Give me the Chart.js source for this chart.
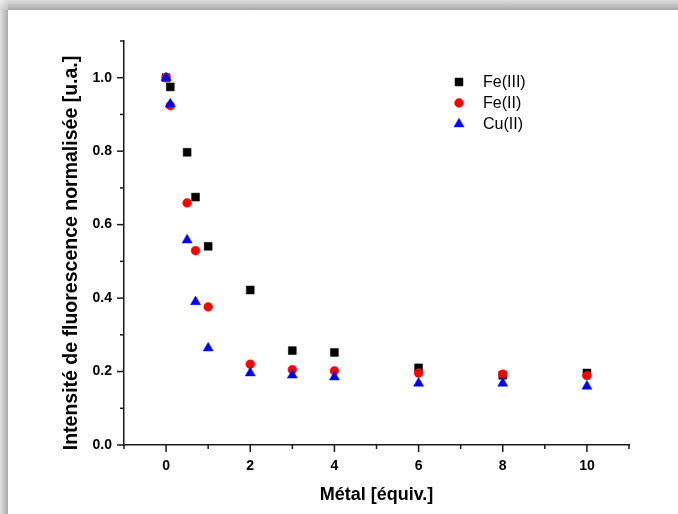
<!DOCTYPE html>
<html>
<head>
<meta charset="utf-8">
<script src="https://cdn.jsdelivr.net/npm/chart.js@4/dist/chart.umd.min.js"></script>
<style>
  html, body { margin: 0; padding: 0; background: #fff; }
  #wrap { position: relative; width: 678px; height: 514px; overflow: hidden; background: #fff; }
  #topband { position: absolute; left: 0; top: 0; width: 678px; height: 10px;
    background: linear-gradient(to bottom, #dedede, #a8a8a8); }
  #leftband { position: absolute; left: 0; top: 0; width: 8px; height: 514px;
    background: linear-gradient(to right, #e2e2e2, #a8a8a8); }
  #cornerfix { position: absolute; left: 0; top: 0; width: 8px; height: 10px;
    background: linear-gradient(135deg, #f0f0f0, #c0c0c0); }
  canvas { position: absolute; left: 0; top: 0; }
</style>
</head>
<body>
<div id="wrap">
  <div id="topband"></div>
  <div id="leftband"></div>
  <div id="cornerfix"></div>
  <canvas id="c" width="678" height="514"></canvas>
</div>
<script>
// ---- data ----
const xValues   = [0, 0.1, 0.5, 0.7, 1, 2, 3, 4, 6, 8, 10];
const feIII     = [1.0, 0.975, 0.797, 0.675, 0.541, 0.422, 0.257, 0.252, 0.210, 0.190, 0.196];
const feII      = [1.0, 0.924, 0.659, 0.529, 0.376, 0.220, 0.205, 0.202, 0.196, 0.193, 0.189];
const cuII      = [1.0, 0.928, 0.558, 0.390, 0.264, 0.196, 0.190, 0.185, 0.168, 0.168, 0.160];
const seriesNames = ['Fe(III)', 'Fe(II)', 'Cu(II)'];
const xTickLabels = ['0', '2', '4', '6', '8', '10'];
const yTickLabels = ['0.0', '0.2', '0.4', '0.6', '0.8', '1.0'];
const xTitle = 'Métal [équiv.]';
const yTitle = 'Intensité de fluorescence normalisée [u.a.]';

const toPts = arr => xValues.map((x, i) => ({x: x, y: arr[i]}));
const FONT = '"Liberation Sans", Arial, Helvetica, sans-serif';

const styles = [
  {color: '#000000', pointStyle: 'rect', radius: 5.6, order: 2},
  {color: '#ff0000', pointStyle: 'circle', radius: 4.4, order: 1},
  {color: '#0000ff', pointStyle: 'triangle', radius: 5.8, order: 0}
];
const seriesData = [feIII, feII, cuII];

const datasets = seriesData.map((arr, i) => ({
  label: seriesNames[i],
  data: toPts(arr),
  showLine: false,
  pointStyle: styles[i].pointStyle,
  pointRadius: styles[i].radius,
  pointHoverRadius: styles[i].radius,
  pointBackgroundColor: styles[i].color,
  pointBorderColor: styles[i].color,
  pointBorderWidth: 0.5,
  order: styles[i].order
}));

const AXIS_COLOR = '#1a1a1a';

const decorPlugin = {
  id: 'decor',
  afterDraw(chart) {
    const ctx = chart.ctx;
    const xs = chart.scales.x, ys = chart.scales.y;
    const area = chart.chartArea;
    ctx.save();
    ctx.strokeStyle = AXIS_COLOR;
    ctx.lineWidth = 1.5;
    // x ticks (outward, down)
    for (let v = -1; v <= 11; v++) {
      const px = xs.getPixelForValue(v);
      const major = (v % 2 === 0);
      ctx.beginPath();
      ctx.moveTo(px, area.bottom);
      ctx.lineTo(px, area.bottom + (major ? 7 : 4));
      ctx.stroke();
    }
    // y ticks (outward, left)
    for (let i = 0; i <= 11; i++) {
      const v = i / 10;
      const py = ys.getPixelForValue(v);
      const major = (i % 2 === 0);
      ctx.beginPath();
      ctx.moveTo(area.left, py);
      ctx.lineTo(area.left - (major ? 7 : 4), py);
      ctx.stroke();
    }
    // axis titles
    ctx.fillStyle = '#000';
    ctx.textAlign = 'center';
    ctx.textBaseline = 'middle';
    ctx.font = 'bold 18px ' + FONT;
    ctx.fillText(xTitle, (area.left + area.right) / 2, 495);
    ctx.save();
    ctx.translate(72, 253);
    ctx.rotate(-Math.PI / 2);
    ctx.font = 'bold 19.5px ' + FONT;
    ctx.fillText(yTitle, 0, 0);
    ctx.restore();
    // legend
    const lx = 459, ltx = 483, ly0 = 82, ldy = 21;
    ctx.font = '16px ' + FONT;
    ctx.textAlign = 'left';
    datasets.forEach((ds, i) => {
      const y = ly0 + i * ldy;
      ctx.fillStyle = ds.pointBackgroundColor;
      ctx.strokeStyle = ds.pointBorderColor;
      ctx.lineWidth = 0.5;
      Chart.helpers.drawPoint(ctx, {pointStyle: ds.pointStyle, radius: ds.pointRadius, rotation: 0, borderWidth: 0.5}, lx, y);
      ctx.fillStyle = '#000';
      ctx.fillText(ds.label, ltx, y + 1);
    });
    ctx.restore();
  }
};

new Chart(document.getElementById('c'), {
  type: 'scatter',
  data: { datasets: datasets },
  options: {
    responsive: false,
    animation: false,
    devicePixelRatio: 1,
    layout: { padding: { top: 41, right: 49, left: 0, bottom: 0 } },
    plugins: { legend: { display: false }, tooltip: { enabled: false } },
    scales: {
      x: {
        type: 'linear', min: -1, max: 11,
        afterFit: s => { s.height = 69; },
        grid: { display: false, drawTicks: false },
        border: { display: true, color: AXIS_COLOR, width: 1.5 },
        ticks: {
          stepSize: 1, padding: 13, color: '#000', maxRotation: 0, autoSkip: false,
          font: { family: FONT, size: 14, weight: 'bold' },
          callback: (v) => {
            const r = Math.round(v);
            return (r >= 0 && r % 2 === 0) ? xTickLabels[r / 2] : '';
          }
        }
      },
      y: {
        type: 'linear', min: 0, max: 1.1,
        afterFit: s => { s.width = 124; },
        grid: { display: false, drawTicks: false },
        border: { display: true, color: AXIS_COLOR, width: 1.5 },
        ticks: {
          stepSize: 0.1, padding: 12, color: '#000', autoSkip: false,
          font: { family: FONT, size: 14, weight: 'bold' },
          callback: (v, idx) => (idx % 2 === 0 && idx / 2 < yTickLabels.length) ? yTickLabels[idx / 2] : ''
        }
      }
    }
  },
  plugins: [decorPlugin]
});
</script>
</body>
</html>
